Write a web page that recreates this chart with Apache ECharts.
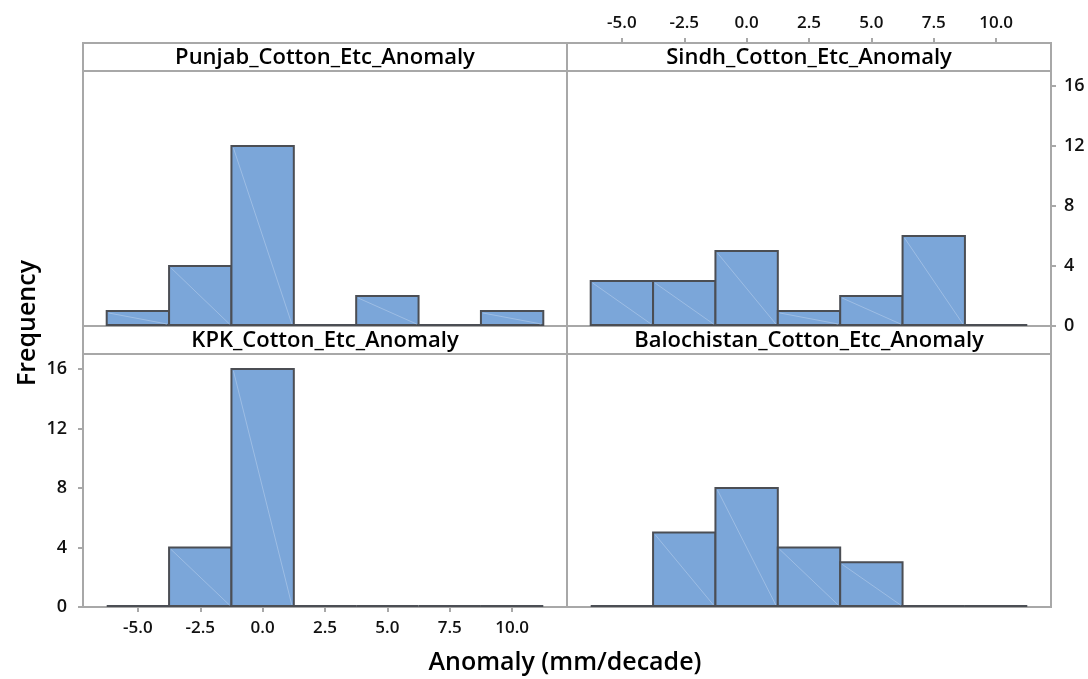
<!DOCTYPE html>
<html>
<head>
<meta charset="utf-8">
<script src="https://cdn.jsdelivr.net/npm/echarts@6/dist/echarts.min.js"></script>
<style>
  html, body { margin: 0; padding: 0; background: #fff; }
  #main { width: 1088px; height: 679px; }
</style>
</head>
<body>
<div id="main"></div>
<script>
// histogram bins (centres, mm/decade) and counts per panel
var binCenters = [-5, -2.5, 0, 2.5, 5, 7.5, 10];
var binWidth = 2.5;
var panelNames = ['Punjab_Cotton_Etc_Anomaly', 'Sindh_Cotton_Etc_Anomaly',
                  'KPK_Cotton_Etc_Anomaly', 'Balochistan_Cotton_Etc_Anomaly'];
var punjab = [1, 4, 12, 0, 2, 0, 1];
var sindh = [3, 3, 5, 1, 2, 6, 0];
var kpk = [0, 4, 16, 0, 0, 0, 0];
var balochistan = [0, 5, 8, 4, 3, 0, 0];
var xTicks = [-5, -2.5, 0, 2.5, 5, 7.5, 10];
var yTicks = [0, 4, 8, 12, 16];

var chart = echarts.init(document.getElementById('main'));

var FONT = 'Open Sans';
var frameColor = '#a8a8a8';
var colLeft = [83, 567], colW = 484;
var headerTop = [43, 326], headerH = 28;
var plotTop = [71, 354], plotH = [255, 253];

var counts = [punjab, sindh, kpk, balochistan];

function renderHist(params, api) {
  var c = api.value(0), n = api.value(1);
  var p0 = api.coord([c - binWidth / 2, n]);
  var p1 = api.coord([c + binWidth / 2, 0]);
  if (n === 0) {
    return {
      type: 'line',
      shape: { x1: p0[0], y1: p1[1] - 1, x2: p1[0], y2: p1[1] - 1 },
      style: { stroke: '#4b4e54', lineWidth: 2 }
    };
  }
  return {
    type: 'group',
    children: [{
      type: 'rect',
      shape: { x: p0[0], y: p0[1], width: p1[0] - p0[0], height: p1[1] - p0[1] - 1 },
      style: { fill: '#7ba6d9', stroke: '#4b4e54', lineWidth: 2 }
    }, {
      type: 'line',
      shape: { x1: p0[0] + 2, y1: p0[1] + 2, x2: p1[0] - 2, y2: p1[1] - 2 },
      style: { stroke: '#9dbde4', lineWidth: 1 }
    }]
  };
}

var grids = [], xAxes = [], yAxes = [], series = [], graphics = [];
for (var i = 0; i < 4; i++) {
  var r = Math.floor(i / 2), c = i % 2;
  grids.push({
    left: colLeft[c], top: plotTop[r], width: colW, height: plotH[r],
    show: true, borderColor: frameColor, borderWidth: 2, backgroundColor: '#fff'
  });
  var showAx = (i === 1 || i === 2);
  xAxes.push({
    gridIndex: i, type: 'value', min: -7.2, max: 12.2,
    position: i === 1 ? 'top' : 'bottom',
    offset: i === 1 ? headerH : 0,
    splitLine: { show: false },
    axisLine: { show: false, onZero: false },
    axisTick: { show: showAx, length: 5, customValues: xTicks, lineStyle: { color: frameColor, width: 2 } },
    axisLabel: {
      show: showAx, customValues: xTicks, margin: i === 1 ? 11 : 13,
      fontFamily: FONT, fontWeight: 600, fontSize: 17, color: '#111',
      formatter: function (v) { return v.toFixed(1); }
    }
  });
  yAxes.push({
    gridIndex: i, type: 'value', min: 0, max: 17,
    position: i === 1 ? 'right' : 'left',
    splitLine: { show: false },
    axisLine: { show: false, onZero: false },
    axisTick: { show: showAx, length: 5, customValues: yTicks, lineStyle: { color: frameColor, width: 2 } },
    axisLabel: {
      show: showAx, customValues: yTicks, margin: i === 1 ? 13 : 16,
      fontFamily: FONT, fontWeight: 600, fontSize: 18, color: '#111'
    }
  });
  series.push({
    type: 'custom', xAxisIndex: i, yAxisIndex: i,
    renderItem: renderHist,
    data: binCenters.map(function (b, k) { return [b, counts[i][k]]; })
  });
  graphics.push({
    type: 'rect',
    shape: { x: colLeft[c], y: headerTop[r], width: colW, height: headerH },
    style: { fill: '#fff', stroke: frameColor, lineWidth: 2 }
  });
  graphics.push({
    type: 'text',
    x: colLeft[c] + colW / 2, y: headerTop[r] + headerH / 2 + 1,
    style: {
      text: panelNames[i], align: 'center', verticalAlign: 'middle',
      font: '600 22px "' + FONT + '"', fill: '#000'
    }
  });
}

graphics.push({
  type: 'text', x: 565, y: 663,
  style: { text: 'Anomaly (mm/decade)', align: 'center', verticalAlign: 'middle',
           font: '600 25px "' + FONT + '"', fill: '#000' }
});
graphics.push({
  type: 'text', x: 28, y: 323, rotation: Math.PI / 2,
  style: { text: 'Frequency', align: 'center', verticalAlign: 'middle',
           font: '600 25px "' + FONT + '"', fill: '#000' }
});

chart.setOption({
  backgroundColor: '#fff',
  animation: false,
  grid: grids,
  xAxis: xAxes,
  yAxis: yAxes,
  series: series,
  graphic: graphics
});
</script>
</body>
</html>
